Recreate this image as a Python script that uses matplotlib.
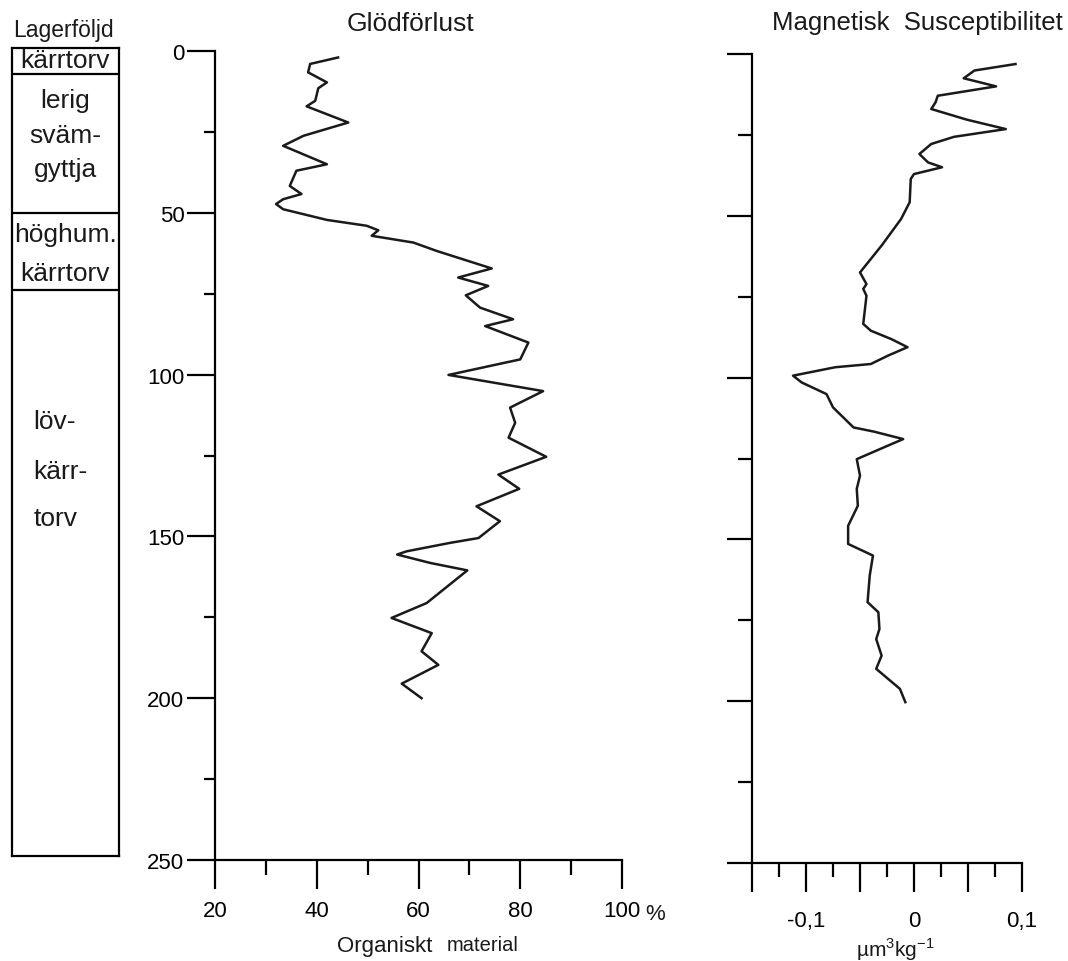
import matplotlib
matplotlib.use("Agg")
import matplotlib.pyplot as plt
from matplotlib.ticker import MultipleLocator, FixedLocator

plt.rcParams['font.family'] = ['Liberation Sans', 'DejaVu Sans']

# lithology (depth in cm)
layer_bounds = [0, 8, 51, 75, 250]
layer_labels = [["kärrtorv"], ["lerig", "sväm-", "gyttja"], ["höghum.", "kärrtorv"],
                ["löv-", "kärr-", "torv"]]

# loss on ignition, % organic material
glod_depth = [2, 4, 6.6, 9.7, 11.5, 15.4, 17.1, 22.1, 26.2, 29.3, 35, 37, 41.7, 44.2,
              45.8, 47.3, 48.9, 52.2, 54, 55.4, 57.1, 59.2, 61.8, 67.2, 70, 72.6, 75.5,
              79.3, 82.9, 85, 90.1, 95.3, 100.1, 105.1, 110.2, 114.9, 119.5, 125.4,
              130.9, 135.3, 140.7, 145.3, 150.5, 152, 154.6, 155.6, 158.2, 160.5, 170.6,
              175.2, 179.9, 185.5, 189.7, 195.5, 200]
glod_pct = [44.2, 38.7, 38.3, 42, 40.3, 39.7, 38, 46.2, 37.4, 33.4, 42, 36, 34.7, 37,
            33.4, 32, 33.4, 42, 49.8, 52.1, 50.8, 59, 63.6, 74.4, 67.8, 73.7, 69.3,
            72.1, 78.6, 73.1, 81.6, 80, 65.9, 84.5, 78, 79, 77.7, 85.1,
            75.7, 79.8, 71.4, 76, 71.8, 66.2, 57.7, 55.8, 62.3, 69.6, 61.6,
            54.7, 62.6, 60.6, 63.9, 56.7, 60.6]

# magnetic susceptibility
mag_depth = [3.1, 5.1, 7.5, 10, 12.9, 14.9, 17, 20.3, 23.2, 25.6, 27.8, 30.9, 33.5, 35,
             37.1, 38.6, 45.8, 51, 59.2, 67.5, 71.1, 72.6, 74.7, 83.4, 85.5, 88.1, 90.6,
             93.2, 95.8, 96.8, 99.4, 101.5, 105.1, 109.2, 115.4, 116.7, 119, 121, 125.2,
             130.3, 134.4, 139.6, 145.8, 151.4, 155, 161.2, 169.4, 172.5, 177.7, 180.8,
             185.9, 190, 193.1, 196.2, 200.3]
mag_val = [0.094, 0.056, 0.046, 0.076, 0.022, 0.020, 0.016, 0.049, 0.085, 0.037, 0.016,
           0.005, 0.013, 0.026, 0.0, -0.003, -0.004, -0.012, -0.030, -0.050, -0.044,
           -0.047, -0.044, -0.047, -0.040, -0.021, -0.006, -0.024, -0.040, -0.073,
           -0.112, -0.104, -0.081, -0.075, -0.056, -0.037, -0.010, -0.024, -0.053,
           -0.050, -0.053, -0.052, -0.061, -0.061, -0.038, -0.041, -0.043, -0.033,
           -0.032, -0.035, -0.030, -0.035, -0.024, -0.013, -0.008]

W, H = 1068, 962
fig = plt.figure(figsize=(W / 100, H / 100), dpi=100)


def box(x0, y0, x1, y1):
    # pixel box -> figure fraction rect
    return [x0 / W, 1 - y1 / H, (x1 - x0) / W, (y1 - y0) / H]


lw = 1.6
ink = '#1a1a1a'

# --- lithology column
ax0 = fig.add_axes(box(12, 49, 119, 857))
ax0.set_xlim(0, 1)
ax0.set_ylim(250, 0)
ax0.set_xticks([])
ax0.set_yticks([])
for s in ax0.spines.values():
    s.set_linewidth(lw)
for b in layer_bounds[1:-1]:
    ax0.axhline(b, color='black', lw=lw)
text_pos = [[3.6], [16, 27, 37.5], [57.5, 69.5], [115.5, 131, 145.5]]
for labels, ys in zip(layer_labels, text_pos):
    for lab, y in zip(labels, ys):
        if lab in ("löv-", "kärr-", "torv"):
            ax0.text(0.2, y, lab, ha='left', va='center', fontsize=19, color=ink)
        else:
            ax0.text(0.5, y, lab, ha='center', va='center', fontsize=19, color=ink)
fig.text(63 / W, 1 - 31 / H, "Lagerföljd", ha='center', va='center', fontsize=16.5,
         color=ink)

# --- loss on ignition
ax1 = fig.add_axes(box(215, 52, 622, 861))
ax1.plot(glod_pct, glod_depth, color=ink, lw=1.8)
ax1.set_xlim(20, 100)
ax1.set_ylim(250, 0)
ax1.spines['top'].set_visible(False)
ax1.spines['right'].set_visible(False)
ax1.spines['left'].set_linewidth(lw)
ax1.spines['bottom'].set_linewidth(lw)
ax1.set_yticks([0, 50, 100, 150, 200, 250])
ax1.yaxis.set_minor_locator(MultipleLocator(25))
ax1.set_xticks([20, 40, 60, 80, 100])
ax1.xaxis.set_minor_locator(FixedLocator([30, 50, 70, 90]))
ax1.tick_params(axis='y', which='major', length=20, width=lw, labelsize=16, pad=2)
ax1.tick_params(axis='y', which='minor', length=8, width=lw)
ax1.tick_params(axis='x', which='major', length=21, width=lw, labelsize=16, pad=8)
ax1.tick_params(axis='x', which='minor', length=11, width=lw)
ax1.text(104.6, -0.066, "%", transform=ax1.get_xaxis_transform(), fontsize=16,
         ha='left', va='center', color=ink)
fig.text(411 / W, 1 - 24 / H, "Glödförlust", ha='center', va='center', fontsize=19,
         color=ink)
fig.text(385 / W, 1 - 947 / H, "Organiskt", ha='center', va='center', fontsize=16,
         color=ink)
fig.text(483 / W, 1 - 946 / H, "material", ha='center', va='center', fontsize=14.5,
         color=ink)

# --- magnetic susceptibility
ax2 = fig.add_axes(box(752, 55, 1022, 864))
ax2.plot(mag_val, mag_depth, color=ink, lw=1.8)
ax2.set_xlim(-0.15, 0.1)
ax2.set_ylim(250, 0)
ax2.spines['top'].set_visible(False)
ax2.spines['right'].set_visible(False)
ax2.spines['left'].set_linewidth(lw)
ax2.spines['bottom'].set_linewidth(lw)
ax2.set_yticks([0, 50, 100, 150, 200, 250])
ax2.set_yticklabels([])
ax2.yaxis.set_minor_locator(MultipleLocator(25))
ax2.set_xticks([-0.15, -0.1, -0.05, 0, 0.05, 0.1])
ax2.set_xticklabels(['', '-0,1', '', '0', '', '0,1'])
ax2.xaxis.set_minor_locator(FixedLocator([-0.125, -0.075, -0.025, 0.025, 0.075]))
ax2.tick_params(axis='y', which='major', length=18, width=lw)
ax2.tick_params(axis='y', which='minor', length=10, width=lw)
ax2.tick_params(axis='x', which='major', length=21, width=lw, labelsize=16, pad=13)
ax2.tick_params(axis='x', which='minor', length=10, width=lw)
fig.text(917 / W, 1 - 23 / H, "Magnetisk  Susceptibilitet", ha='center', va='center',
         fontsize=18.5, color=ink)
fig.text(895 / W, 1 - 950 / H, r"µm$^{\mathregular{3}}$kg$^{\mathregular{-1}}$",
         ha='center', va='center', fontsize=15, color=ink)

fig.savefig("out.png", dpi=100)
